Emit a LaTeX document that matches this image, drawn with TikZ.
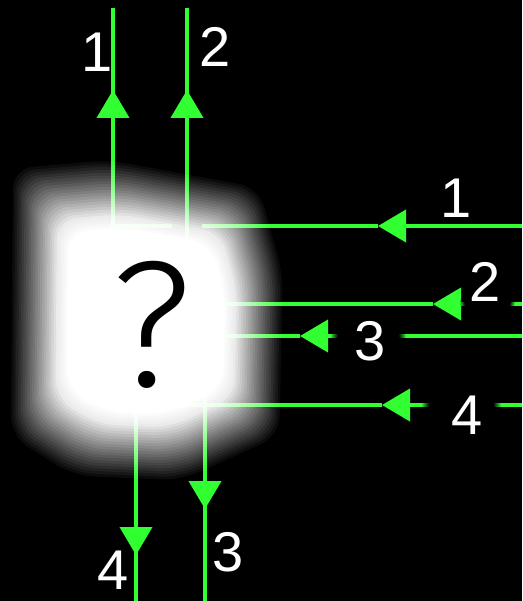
\documentclass[tikz,border=0pt]{standalone}
\usepackage{fontspec}
\setmainfont{Liberation Sans}
\newfontfamily\qmarkfont{Fira Sans Light}
\usepackage{tikz}
\usetikzlibrary{arrows.meta,calc,fadings}
\definecolor{wiregreen}{RGB}{50,255,50}

\tikzset{
  wire/.style={draw=wiregreen,line width=4pt},
  tipwire/.style={wire,-{Triangle[width=32pt,length=28pt]}},
  numlbl/.style={text=white,font=\fontsize{56}{56}\selectfont,inner sep=0pt},
  blobfog/.style={fill=white,opacity=#1,rounded corners=20pt},
  lblshade/.style={fill=black,path fading=circle with fuzzy edge 20 percent}
}
\newcommand{\blobshape}{(-110,-128) -- (-30,-135) -- (95,-112) -- (115,-40)
  -- (112,95) -- (30,132) -- (-60,128) -- (-112,95) -- cycle}

\begin{document}
\begin{tikzpicture}[x=1pt,y=-1pt]
\fill[black] (0,0) rectangle (522,601);
\useasboundingbox (0,0) rectangle (522,601);

% path corners
\coordinate (in1) at (522,226); \coordinate (tip1a) at (378,226);
\coordinate (bend1) at (113,226); \coordinate (tip1b) at (113,90); \coordinate (out1) at (113,8);
\coordinate (in2) at (522,304); \coordinate (tip2a) at (433,304);
\coordinate (bend2) at (187,304); \coordinate (tip2b) at (187,90); \coordinate (out2) at (187,8);
\coordinate (in3) at (522,336); \coordinate (tip3a) at (300,336);
\coordinate (bend3) at (205,336); \coordinate (tip3b) at (205,509); \coordinate (out3) at (205,601);
\coordinate (in4) at (522,405); \coordinate (tip4a) at (382,405);
\coordinate (bend4) at (136,405); \coordinate (tip4b) at (136,555); \coordinate (out4) at (136,601);

% path 1
\draw[tipwire] (in1) -- (tip1a);
\draw[wire] (tip1a) -- (bend1) -- (out1);
\draw[tipwire] (bend1) -- (tip1b);
% path 2 (cut through path 1)
\draw[black,line width=30pt] (bend2) -- (out2);
\draw[tipwire] (in2) -- (tip2a);
\draw[wire] (tip2a) -- (bend2) -- (out2);
\draw[tipwire] (bend2) -- (tip2b);
% path 3
\draw[tipwire] (in3) -- (tip3a);
\draw[wire] (tip3a) -- (bend3) -- (out3);
\draw[tipwire] (bend3) -- (tip3b);
% path 4
\draw[tipwire] (in4) -- (tip4a);
\draw[wire] (tip4a) -- (bend4) -- (out4);
\draw[tipwire] (bend4) -- (tip4b);

% the blurred box
\coordinate (blobc) at (145,322);
\foreach \k in {1,...,20} {
  \pgfmathsetmacro\s{1.22-0.021*\k}
  \pgfmathsetmacro\op{0.93/(20-0.93*(\k-1))}
  \begin{scope}[shift={(blobc)},scale=\s]
    \fill[blobfog=\op] \blobshape;
  \end{scope}
}
\foreach \j in {1,...,5} {
  \pgfmathsetmacro\s{0.80-0.02*\j}
  \pgfmathsetmacro\op{1/(6-\j)}
  \begin{scope}[shift={(blobc)},scale=\s]
    \fill[blobfog=\op] \blobshape;
  \end{scope}
}
\node[text=black,font=\qmarkfont\fontsize{180}{180}\selectfont,inner sep=0pt] (qmark) at (152,325) {?};

% labels
\coordinate (p1t) at (97,52); \coordinate (p2t) at (215,47);
\coordinate (p1r) at (456,198); \coordinate (p2r) at (485,282);
\coordinate (p3r) at (370,341); \coordinate (p4r) at (467,415);
\coordinate (p4b) at (113,570); \coordinate (p3b) at (228,552);
\fill[lblshade] ($(p2r)+(2,20)$) ellipse [x radius=28pt,y radius=16pt];
\fill[lblshade] ($(p3r)+(-2,-5)$) ellipse [x radius=38pt,y radius=16pt];
\fill[lblshade] ($(p4r)+(-6,-10)$) ellipse [x radius=40pt,y radius=16pt];
\node[numlbl] (l1t) at (p1t) {1};
\node[numlbl] (l2t) at (p2t) {2};
\node[numlbl] (l1r) at (p1r) {1};
\node[numlbl] (l2r) at (p2r) {2};
\node[numlbl] (l3r) at (p3r) {3};
\node[numlbl] (l4r) at (p4r) {4};
\node[numlbl] (l4b) at (p4b) {4};
\node[numlbl] (l3b) at (p3b) {3};
\end{tikzpicture}
\end{document}
